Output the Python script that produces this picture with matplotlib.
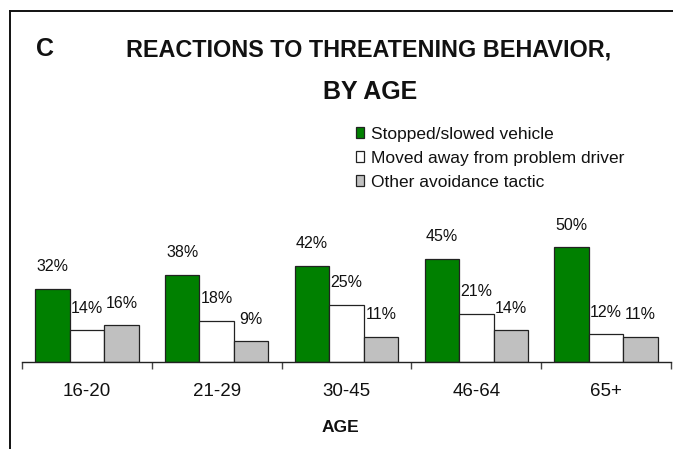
import matplotlib
matplotlib.use("Agg")
import matplotlib.pyplot as plt
from matplotlib.lines import Line2D
from matplotlib.patches import Rectangle
from matplotlib.transforms import blended_transform_factory
import numpy as np

categories = ["16-20", "21-29", "30-45", "46-64", "65+"]
series_names = ["Stopped/slowed vehicle", "Moved away from problem driver", "Other avoidance tactic"]
stopped = [32, 38, 42, 45, 50]
moved_away = [14, 18, 25, 21, 12]
other = [16, 9, 11, 14, 11]
series_values = [stopped, moved_away, other]
colors = ["#008000", "#FFFFFF", "#C0C0C0"]

plt.rcParams["font.family"] = ["Liberation Sans", "DejaVu Sans"]

W, H = 673, 449
fig = plt.figure(figsize=(W / 100, H / 100), dpi=100)
fig.patch.set_facecolor("white")

def fx(px):
    return px / W

def fy(py):
    return 1 - py / H

# plot area: baseline at y=362 px, 2.295 px per percent
ymax = 70
px_per_unit = 2.295
ax_h = ymax * px_per_unit
ax = fig.add_axes([fx(22), fy(362), (671 - 22) / W, ax_h / H])
ax.set_xlim(-0.5, len(categories) - 0.5)
ax.set_ylim(0, ymax)

x = np.arange(len(categories))
bw = 0.266
offsets = [-bw, 0, bw]
for vals, col, off, name in zip(series_values, colors, offsets, series_names):
    ax.bar(x + off, vals, width=bw, color=col, edgecolor="#222222",
           linewidth=0.9, label=name, zorder=2)
    for xi, v in zip(x + off, vals):
        ax.annotate(f"{v}%", (xi, v), xytext=(0, 12.5), textcoords="offset points",
                    ha="center", va="baseline", fontsize=11.5, color="#111111")

for s in ["top", "right", "left"]:
    ax.spines[s].set_visible(False)
ax.spines["bottom"].set_linewidth(1.0)
ax.spines["bottom"].set_color("#222222")
ax.set_yticks([])
ax.set_xticks(np.arange(len(categories) + 1) - 0.5)
ax.set_xticklabels([])
ax.tick_params(axis="x", length=5, width=1.0, color="#444444", direction="out")

# category labels centred under each group
cat_trans = blended_transform_factory(ax.transData, fig.transFigure)
for xi, c in zip(x, categories):
    ax.text(xi, fy(396), c, transform=cat_trans, ha="center", va="baseline",
            fontsize=13.5, color="#111111")

fig.text(fx(340), fy(432), "AGE", ha="center", va="baseline",
         fontsize=12.5, fontweight="bold", color="#111111")

# titles
fig.text(fx(36), fy(56), "C", ha="left", va="baseline", fontsize=18,
         fontweight="bold", color="#111111")
fig.text(fx(369), fy(56), "REACTIONS TO THREATENING BEHAVIOR,", ha="center",
         va="baseline", fontsize=16.8, fontweight="bold", color="#111111")
fig.text(fx(370), fy(99), "BY AGE", ha="center", va="baseline", fontsize=18,
         fontweight="bold", color="#111111")

# legend: swatch + label per series
for i, (name, col) in enumerate(zip(series_names, colors)):
    top = 127 + 24 * i
    fig.add_artist(Rectangle((fx(356), fy(top + 11)), 8 / W, 11 / H,
                             transform=fig.transFigure, facecolor=col,
                             edgecolor="#222222", linewidth=0.9))
    fig.text(fx(371), fy(top + 12), name, ha="left", va="baseline",
             fontsize=12.5, color="#111111")

# outer frame (top and left edges)
fig.add_artist(Line2D([fx(10), 1.0], [fy(11), fy(11)], color="#111111", lw=1.4))
fig.add_artist(Line2D([fx(10), fx(10)], [fy(11), 0.0], color="#111111", lw=1.4))

fig.savefig("out.png", dpi=100, facecolor="white")
